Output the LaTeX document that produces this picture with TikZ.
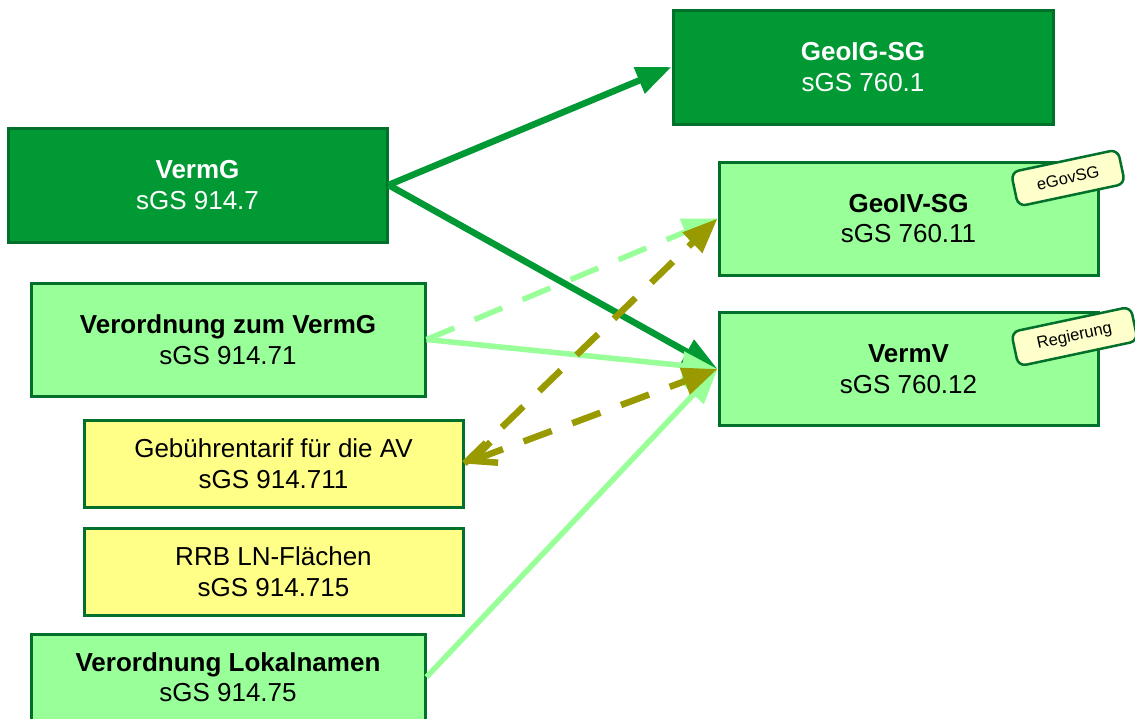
\documentclass[tikz,border=0pt]{standalone}
\usepackage{fontspec}
\setmainfont{Liberation Sans}
\usetikzlibrary{arrows.meta}
\definecolor{dkgreen}{HTML}{009933}
\definecolor{ltgreen}{HTML}{99FF99}
\definecolor{boxyellow}{HTML}{FFFF88}
\definecolor{tagyellow}{HTML}{FFFFCC}
\definecolor{bordgreen}{HTML}{00702B}
\definecolor{olivecol}{HTML}{999900}
\begin{document}
\begin{tikzpicture}[x=1pt,y=-1pt,
  box/.style={draw=bordgreen, line width=3pt, rectangle, align=center, inner sep=0pt,
    font=\fontsize{26}{30.5}\selectfont},
  darkbox/.style={box, fill=dkgreen, text=white},
  lightbox/.style={box, fill=ltgreen, text=black},
  yellowbox/.style={box, fill=boxyellow, text=black},
  tagbox/.style={draw=bordgreen, line width=2.5pt, fill=tagyellow, rounded corners=8pt,
    rotate=12, minimum height=35pt, inner xsep=23pt, inner ysep=0pt,
    font=\fontsize{16.5}{19}\selectfont},
  head/.style={-{Triangle[length=35pt,width=27pt]}},
  dkarrow/.style={draw=dkgreen, line width=6.5pt, head},
  ltarrow/.style={draw=ltgreen, line width=5.5pt, head},
  ltdash/.style={ltarrow, dash pattern=on 30pt off 22pt},
  olarrow/.style={draw=olivecol, line width=6.5pt, dash pattern=on 30pt off 22pt, head}
]
\useasboundingbox (0,0) rectangle (1135,718);

% boxes
\node[darkbox, minimum width=380pt, minimum height=114pt] (geoig) at (863,67)
  {\textbf{GeoIG-SG}\\sGS 760.1};
\node[darkbox, minimum width=379pt, minimum height=114pt] (vermg) at (197.5,185)
  {\textbf{VermG}\\sGS 914.7};
\node[lightbox, minimum width=379pt, minimum height=113pt] (geoiv) at (908.5,218.5)
  {\textbf{GeoIV-SG}\\sGS 760.11};
\node[lightbox, minimum width=379pt, minimum height=113pt] (vermv) at (908.5,369)
  {\textbf{VermV}\\sGS 760.12};
\node[lightbox, minimum width=394pt, minimum height=113pt] (vzv) at (228,339.5)
  {\textbf{Verordnung zum VermG}\\sGS 914.71};
\node[yellowbox, minimum width=379pt, minimum height=87pt] (geb) at (273.5,463.5)
  {Gebührentarif für die AV\\sGS 914.711};
\node[yellowbox, minimum width=379pt, minimum height=87pt] (rrb) at (273.5,571.5)
  {RRB LN-Flächen\\sGS 914.715};
\node[lightbox, minimum width=394pt, minimum height=86pt] (lok) at (228,677)
  {\textbf{Verordnung Lokalnamen}\\sGS 914.75};

% connectors
\draw[ltdash] (vzv.east) -- (geoiv.west);
\draw[dkarrow] (vermg.east) -- (geoig.west);
\draw[dkarrow] (vermg.east) -- (vermv.west);
\draw[ltarrow] (vzv.east) -- (vermv.west);
\draw[ltarrow] (lok.east) -- (vermv.west);
\draw[olarrow] (geb.east) -- (geoiv.west);
\draw[olarrow, {Straight Barb[length=24pt,width=22pt]}-{Triangle[length=35pt,width=27pt]}]
  (geb.east) -- (vermv.west);

% tags
\node[tagbox] (tagegov) at (1068,178) {eGovSG};
\node[tagbox] (tagreg) at (1074.5,336.5) {Regierung};
\end{tikzpicture}
\end{document}
